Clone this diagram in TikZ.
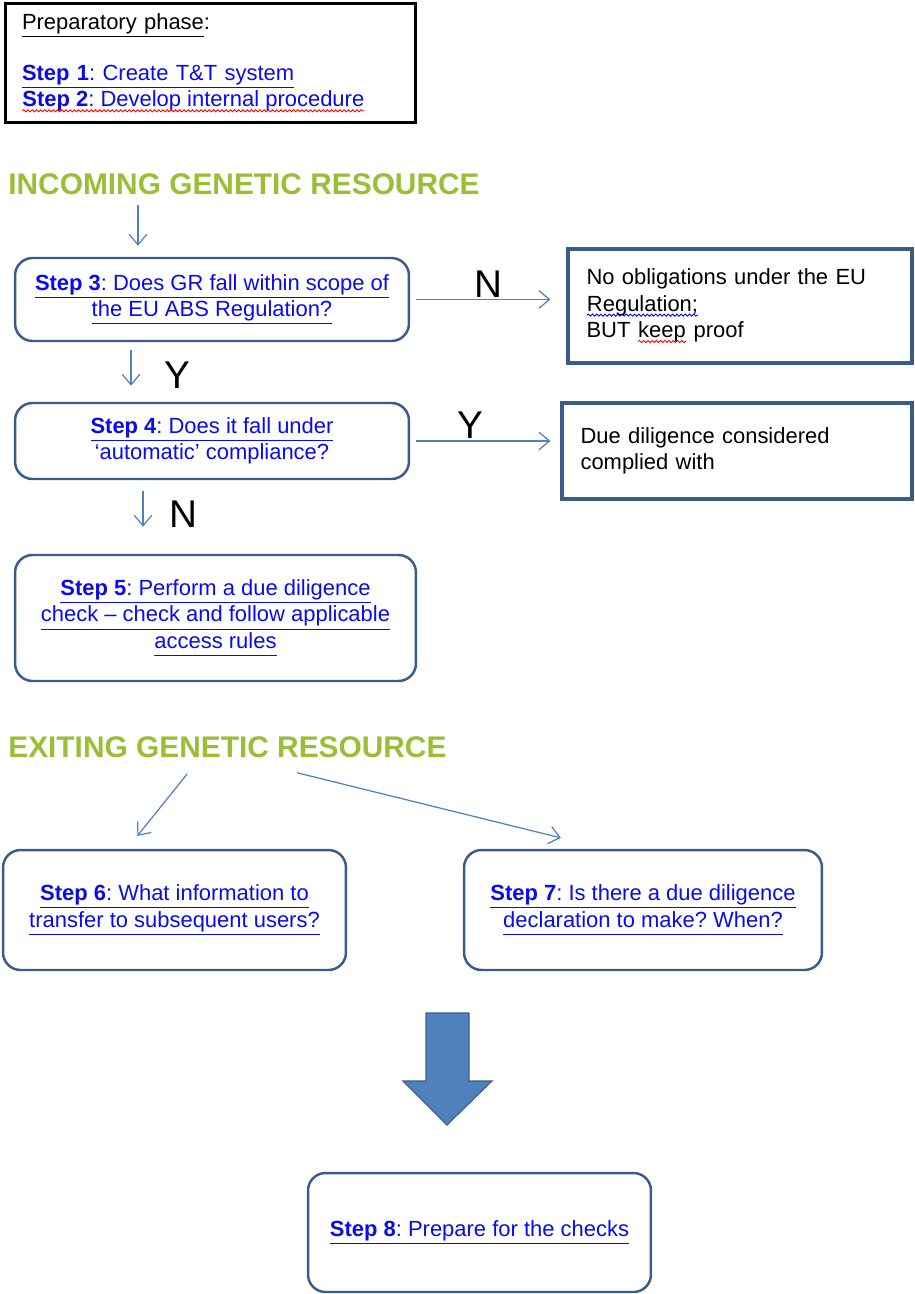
\documentclass[tikz,border=0pt]{standalone}
\usepackage{fontspec}
\setmainfont{Liberation Sans}
\usetikzlibrary{arrows.meta, decorations.pathmorphing}
\definecolor{boxblue}{RGB}{56,93,138}
\definecolor{arrblue}{RGB}{79,129,189}
\definecolor{linkblue}{RGB}{10,10,240}
\definecolor{headgreen}{RGB}{155,190,55}
\frenchspacing
\newcommand{\lnk}[1]{\underline{#1\vphantom{p}}}
\newcommand{\wvy}[2]{\tikz[baseline=(w.base)]{\node[inner sep=0pt, outer sep=0pt, text width=,
    minimum width=0pt, minimum height=0pt, anchor=base] (w) {#2};
    \draw[#1, line width=0.5pt, decorate, decoration={snake, amplitude=0.6pt, segment length=2.4pt}]
    ([yshift=-2.2pt]w.base west) -- ([yshift=-2.2pt]w.base east);}}

\begin{document}
\begin{tikzpicture}[x=0.02cm, y=-0.02cm, font=\fontsize{12.5}{15}\selectfont,
    stepbox/.style={draw=boxblue, line width=1.4pt, rounded corners=0.35cm, align=center, text=linkblue, inner sep=2pt},
    notebox/.style={draw=boxblue, line width=1.8pt, align=left, inner xsep=0.37cm},
    head/.style={font=\fontsize{17}{20}\selectfont\bfseries, text=headgreen, inner sep=0pt, anchor=west},
    yn/.style={font=\fontsize{22}{24}\selectfont, inner sep=1pt},
    arr/.style={draw=arrblue, line width=0.7pt, -{Straight Barb[length=6pt,width=10pt]}}]
    \useasboundingbox (0,0) rectangle (914,1294);

    % preparatory phase
    \node[draw, line width=1.7pt, minimum width=8.22cm, minimum height=2.4cm, text width=7.54cm,
        inner xsep=0.34cm, align=left] (prep) at (210.5,63)
        {\underline{Preparatory phase}:\\[14pt]
        {\color{linkblue}\lnk{\textbf{Step 1}: Create T\&T system}}\\
        {\color{linkblue}\wvy{red}{\textbf{Step 2}: Develop internal procedure}}};

    % incoming
    \node[head] (hin) at (8,184) {INCOMING GENETIC RESOURCE};
    \node[stepbox, minimum width=7.88cm, minimum height=1.66cm] (step3) at (212,299.5)
        {\lnk{\textbf{Step 3}: Does GR fall within scope of}\\ \lnk{the EU ABS Regulation?}};
    \node[notebox, minimum height=2.28cm, text width=6.14cm] (noob) at (740,306)
        {No obligations under the EU\\ \wvy{blue}{Regulation;}\\ BUT \wvy{red}{keep} proof};
    \node[stepbox, minimum width=7.88cm, minimum height=1.52cm] (step4) at (212,441)
        {\lnk{\textbf{Step 4}: Does it fall under}\\ ‘automatic’ compliance?};
    \node[notebox, minimum height=1.92cm, text width=6.26cm] (ddc) at (737,451)
        {Due diligence considered\\ complied with};
    \node[stepbox, minimum width=8.02cm, minimum height=2.52cm] (step5) at (215.5,618)
        {\lnk{\textbf{Step 5}: Perform a due diligence}\\ \lnk{check -- check and follow applicable}\\ \lnk{access rules}};

    \draw[arr, shorten <=0.2cm, shorten >=0.22cm] (hin.south -| 138,0) -- (step3.north -| 138,0);
    \draw[arr, shorten <=0.12cm, shorten >=0.32cm] (step3.east) -- (noob.west |- step3.east)
        node[yn, midway, above] {N};
    \draw[arr, shorten <=0.16cm, shorten >=0.32cm] (step3.south -| 131,0) -- (step4.north -| 131,0)
        node[yn, pos=0.56, right=0.62cm] {Y};
    \draw[arr, shorten <=0.12cm, shorten >=0.2cm] (step4.east) -- (ddc.west |- step4.east)
        node[yn, pos=0.4, above] {Y};
    \draw[arr, shorten <=0.22cm, shorten >=0.54cm] (step4.south -| 143,0) -- (step5.north -| 143,0)
        node[yn, pos=0.46, right=0.48cm] {N};

    % exiting
    \node[head] (hex) at (8,747) {EXITING GENETIC RESOURCE};
    \node[stepbox, minimum width=6.86cm, minimum height=2.4cm] (step6) at (174.5,910)
        {\lnk{\textbf{Step 6}: What information to}\\ \lnk{transfer to subsequent users?}};
    \node[stepbox, minimum width=7.16cm, minimum height=2.4cm] (step7) at (643,910)
        {\lnk{\textbf{Step 7}: Is there a due diligence}\\ \lnk{declaration to make? When?}};
    \node[stepbox, minimum width=6.86cm, minimum height=2.38cm] (step8) at (479.5,1232.5)
        {\lnk{\textbf{Step 8}: Prepare for the checks}};

    \draw[arr, shorten <=0.41cm, shorten >=0.33cm] (hex.south -| 200,0) -- (step6.north -| 127,0);
    \draw[arr, shorten <=1.24cm, shorten >=0.91cm] (hex.south -| 237,0) -- (step7.north -| 605,0);

    % block arrow
    \filldraw[fill=arrblue, draw=boxblue, line width=0.6pt] (426,1013) -- (469,1013) -- (469,1081)
        -- (492,1081) -- (447,1125) -- (403,1081) -- (426,1081) -- cycle;
\end{tikzpicture}
\end{document}
